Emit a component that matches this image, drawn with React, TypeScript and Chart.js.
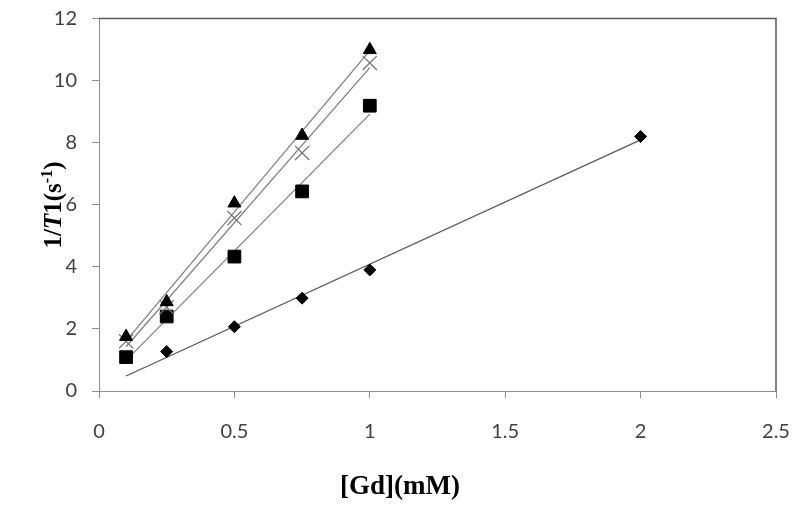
import React, { useEffect, useRef } from "react";
import { Chart, registerables } from "chart.js";

Chart.register(...registerables);

// Data
const conc = [0.1, 0.25, 0.5, 0.75, 1];
const triangleValues = [1.75, 2.87, 6.05, 8.23, 10.99];
const crossValues = [1.6, 2.7, 5.57, 7.67, 10.57];
const squareValues = [1.09, 2.4, 4.33, 6.43, 9.19];
const diamondConc = [0.25, 0.5, 0.75, 1, 2];
const diamondValues = [1.27, 2.07, 2.99, 3.9, 8.2];
const trendStart = 0.1;
const xTicks = [0, 0.5, 1, 1.5, 2, 2.5];
const yTicks = [0, 2, 4, 6, 8, 10, 12];

function pts(xs: number[], ys: number[]) {
  return xs.map((x, i) => ({ x, y: ys[i] }));
}

// Least-squares trendline (like the spreadsheet's linear trendline)
function trend(xs: number[], ys: number[]) {
  const n = xs.length;
  const mx = xs.reduce((a, b) => a + b, 0) / n;
  const my = ys.reduce((a, b) => a + b, 0) / n;
  let sxx = 0;
  let sxy = 0;
  for (let i = 0; i < n; i++) {
    sxx += (xs[i] - mx) * (xs[i] - mx);
    sxy += (xs[i] - mx) * (ys[i] - my);
  }
  const m = sxy / sxx;
  const b = my - m * mx;
  const x1 = Math.max(...xs);
  return [
    { x: trendStart, y: m * trendStart + b },
    { x: x1, y: m * x1 + b },
  ];
}

const framePlugin = {
  id: "frame",
  afterDatasetsDraw(chart: any) {
    const { ctx, chartArea } = chart;
    ctx.save();
    ctx.strokeStyle = "#5a5a5a";
    ctx.lineWidth = 1.5;
    ctx.beginPath();
    ctx.moveTo(chartArea.left, chartArea.top);
    ctx.lineTo(chartArea.right, chartArea.top);
    ctx.lineTo(chartArea.right, chartArea.bottom);
    ctx.stroke();
    ctx.restore();
  },
};

const titlePlugin = {
  id: "richTitles",
  afterDraw(chart: any) {
    const { ctx } = chart;
    const bold = (s: number) => `bold ${s}px "Liberation Serif", "Times New Roman", serif`;
    const boldItalic = (s: number) => `italic bold ${s}px "Liberation Serif", "Times New Roman", serif`;
    ctx.save();
    ctx.fillStyle = "#000";
    ctx.textBaseline = "alphabetic";
    // X title
    ctx.font = bold(27);
    ctx.textAlign = "center";
    ctx.fillText("[Gd](mM)", 400, 494);

    // Y title, rotated, with italic T and superscript -1
    const ys = 25;
    const segs: [string, string, number][] = [
      ["1/", bold(ys), 0],
      ["T", boldItalic(ys), 0],
      ["1(s", bold(ys), 0],
      ["-1", bold(Math.round(ys * 0.62)), -9],
      [")", bold(ys), 0],
    ];
    ctx.textAlign = "left";
    let total = 0;
    for (const [t, f] of segs) {
      ctx.font = f;
      total += ctx.measureText(t).width;
    }
    ctx.translate(61, 205);
    ctx.rotate(-Math.PI / 2);
    let x = -total / 2;
    for (const [t, f, dy] of segs) {
      ctx.font = f;
      ctx.fillText(t, x, dy);
      x += ctx.measureText(t).width;
    }
    ctx.restore();
  },
};

function zeroPad(s: any) {
  s.paddingTop = 0;
  s.paddingBottom = 0;
  s.paddingLeft = 0;
  s.paddingRight = 0;
}

export default function App() {
  const ref = useRef<HTMLCanvasElement | null>(null);

  useEffect(() => {
    if (!ref.current) return;
    const trendStyle = {
      type: "line" as const,
      pointRadius: 0,
      borderColor: "#808080",
      borderWidth: 1.3,
      fill: false,
      showLine: true,
    };
    const chart = new Chart(ref.current, {
      type: "scatter",
      data: {
        datasets: [
          {
            label: "triangle",
            data: pts(conc, triangleValues),
            pointStyle: "triangle",
            pointRadius: 7.5,
            backgroundColor: "#000",
            borderColor: "#000",
            borderWidth: 1,
          },
          {
            label: "cross",
            data: pts(conc, crossValues),
            pointStyle: "crossRot",
            pointRadius: 10,
            backgroundColor: "#707070",
            borderColor: "#707070",
            borderWidth: 1.2,
          },
          {
            label: "square",
            data: pts(conc, squareValues),
            pointStyle: "rect",
            pointRadius: 9,
            backgroundColor: "#000",
            borderColor: "#000",
            borderWidth: 1,
          },
          {
            label: "diamond",
            data: pts(diamondConc, diamondValues),
            pointStyle: "rectRot",
            pointRadius: 6,
            backgroundColor: "#000",
            borderColor: "#000",
            borderWidth: 1,
          },
          { ...trendStyle, label: "t1", data: trend(conc, triangleValues) },
          { ...trendStyle, label: "t2", data: trend(conc, crossValues) },
          { ...trendStyle, label: "t3", data: trend(conc, squareValues) },
          { ...trendStyle, label: "t4", data: trend(diamondConc, diamondValues), borderColor: "#5a5a5a" },
        ] as any,
      },
      options: {
        animation: false,
        responsive: false,
        devicePixelRatio: 1,
        layout: { padding: { top: 18.5, right: 24, left: 0, bottom: 0 } },
        plugins: {
          legend: { display: false },
          tooltip: { enabled: false },
          title: { display: false },
        },
        scales: {
          x: {
            type: "linear",
            min: 0,
            max: 2.5,
            afterBuildTicks: (s: any) => {
              s.ticks = xTicks.map((v) => ({ value: v }));
            },
            afterFit: (s: any) => {
              s.height = 114;
              zeroPad(s);
            },
            ticks: {
              color: "#404040",
              font: { family: "Lato", size: 20 },
              padding: 22,
              maxRotation: 0,
              callback: (v: any) => String(v),
            },
            grid: {
              drawOnChartArea: false,
              drawTicks: true,
              tickLength: 7,
              color: "#8c8c8c",
            },
            border: { color: "#8c8c8c", width: 1 },
          },
          y: {
            type: "linear",
            min: 0,
            max: 12,
            afterBuildTicks: (s: any) => {
              s.ticks = yTicks.map((v) => ({ value: v }));
            },
            afterFit: (s: any) => {
              s.width = 99;
              zeroPad(s);
            },
            ticks: {
              color: "#404040",
              font: { family: "Lato", size: 20 },
              padding: 15,
              callback: (v: any) => String(v),
            },
            grid: {
              drawOnChartArea: false,
              drawTicks: true,
              tickLength: 7,
              color: "#8c8c8c",
            },
            border: { color: "#8c8c8c", width: 1 },
          },
        },
      } as any,
      plugins: [framePlugin, titlePlugin],
    });
    return () => chart.destroy();
  }, []);

  return (
    <div style={{ position: "fixed", left: 0, top: 0, width: 800, height: 505, background: "#fff" }}>
      <canvas ref={ref} width={800} height={505} />
    </div>
  );
}
